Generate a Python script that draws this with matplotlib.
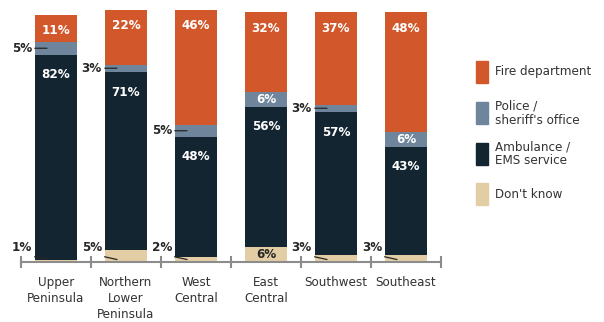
import matplotlib.pyplot as plt
import numpy as np
from matplotlib.patches import Rectangle

regions = ["Upper\nPeninsula", "Northern\nLower\nPeninsula", "West\nCentral",
           "East\nCentral", "Southwest", "Southeast"]
dont_know = [1, 5, 2, 6, 3, 3]
ambulance = [82, 71, 48, 56, 57, 43]
police = [5, 3, 5, 6, 3, 6]
fire = [11, 22, 46, 32, 37, 48]

series_names = ["Fire department", "Police /\nsheriff's office",
                "Ambulance /\nEMS service", "Don't know"]
c_fire = '#d2572a'
c_police = '#6e859c'
c_amb = '#132530'
c_dk = '#e3cda4'

plt.rcParams['font.family'] = ['DejaVu Sans']
plt.rcParams['font.stretch'] = 'condensed'

W, H = 604, 322
fig = plt.figure(figsize=(W / 100, H / 100), dpi=100)
# axes: x from 21px to 441px, baseline at 262px from top
ax = fig.add_axes([21 / W, (H - 262) / H, 420 / W, 262 / H])

x = np.arange(len(regions))
bw = 0.6
dk = np.array(dont_know)
am = np.array(ambulance)
po = np.array(police)
fi = np.array(fire)

ax.bar(x, dk, bw, color=c_dk)
ax.bar(x, am, bw, bottom=dk, color=c_amb)
ax.bar(x, po, bw, bottom=dk + am, color=c_police)
ax.bar(x, fi, bw, bottom=dk + am + po, color=c_fire)

ax.set_xlim(-0.5, len(regions) - 0.5)
ax.set_ylim(0, 262 / 2.5)

for s in ['top', 'right', 'left']:
    ax.spines[s].set_visible(False)
ax.spines['bottom'].set_color('#8c8c8c')
ax.spines['bottom'].set_linewidth(1.5)
ax.set_yticks([])
ax.set_xticks(np.arange(len(regions) + 1) - 0.5)
ax.set_xticklabels([])
ax.tick_params(axis='x', which='major', direction='inout', length=8,
               width=1.5, color='#8c8c8c')
ax.set_xticks(x, minor=True)
ax.set_xticklabels(regions, minor=True, fontsize=9.5, color='#333333',
                   linespacing=1.3)
ax.tick_params(axis='x', which='minor', length=0, pad=10)

lab = dict(fontsize=9.5, fontweight='bold', textcoords='offset pixels')
dark = '#262626'
line = dict(arrowstyle='-', lw=0.9, color='#262626', shrinkA=0, shrinkB=0)
px = 1 / 70  # data units per pixel in x

for i in range(len(regions)):
    left = i - bw / 2
    # fire label
    top = dk[i] + am[i] + po[i] + fi[i]
    ax.annotate(f"{fi[i]}%", (i, top), xytext=(0, -16), ha='center',
                va='center', color='white', **lab)
    # ambulance label
    ax.annotate(f"{am[i]}%", (i, dk[i] + am[i]), xytext=(0, -20),
                ha='center', va='center', color='white', **lab)
    # police
    pm = dk[i] + am[i] + po[i] / 2
    if po[i] >= 6:
        ax.annotate(f"{po[i]}%", (i, pm), xytext=(0, 0), ha='center',
                    va='center', color='white', **lab)
    else:
        ax.annotate(f"{po[i]}%", (left + 12 * px, pm), xytext=(-15, 0),
                    ha='right', va='center', color=dark,
                    arrowprops=dict(relpos=(1, 0.5), **line), **lab)
    # don't know
    if dk[i] >= 6:
        ax.annotate(f"{dk[i]}%", (i, dk[i] / 2), xytext=(0, 0), ha='center',
                    va='center', color=dark, **lab)
    else:
        ax.annotate(f"{dk[i]}%", (left + 12 * px, 1.0), xytext=(-15, 12),
                    ha='right', va='center', color=dark,
                    arrowprops=dict(relpos=(0.5, 0.0), **line), **lab)

# legend
colors = [c_fire, c_police, c_amb, c_dk]
tops = [61, 102, 143, 183]
for name, col, t in zip(series_names, colors, tops):
    fig.add_artist(Rectangle((476 / W, (H - t - 22) / H), 12 / W, 22 / H,
                             color=col, transform=fig.transFigure))
    fig.text(495 / W, (H - t - 11) / H, name, fontsize=9.5, color='#333333',
             va='center', ha='left', linespacing=1.1)

plt.savefig('out.png', dpi=100)
